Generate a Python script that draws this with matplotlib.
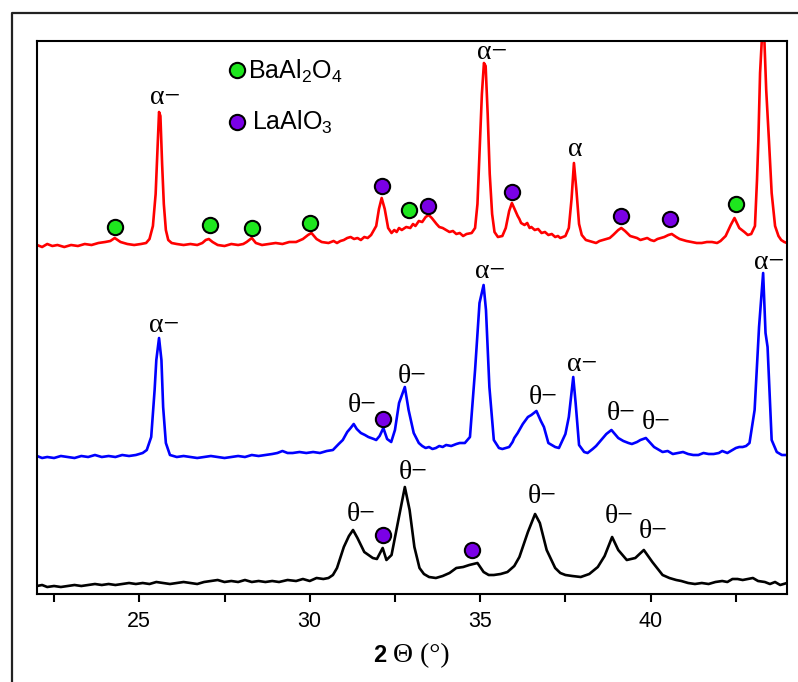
import matplotlib
matplotlib.use("Agg")
import matplotlib.pyplot as plt
from matplotlib.lines import Line2D

plt.rcParams['font.family'] = ['Liberation Sans', 'DejaVu Sans']
plt.rcParams['mathtext.fontset'] = 'custom'
plt.rcParams['mathtext.rm'] = 'Liberation Sans'
plt.rcParams['mathtext.it'] = 'Liberation Sans:italic'
plt.rcParams['mathtext.bf'] = 'Liberation Sans:bold'

# ---- XRD patterns (2-theta in degrees, intensity in a.u., already stacked) ----
red_2theta = [22.0, 22.15, 22.3, 22.45, 22.6, 22.8, 23.0, 23.2, 23.4, 23.6, 23.8, 24.0, 24.15, 24.28,
              24.45, 24.65, 24.85, 25.05, 25.2, 25.3, 25.4, 25.48, 25.53, 25.58, 25.62, 25.67, 25.72,
              25.78, 25.85, 25.95, 26.1, 26.3, 26.5, 26.7, 26.85, 26.95, 27.04, 27.15, 27.3, 27.5,
              27.7, 27.9, 28.05, 28.15, 28.3, 28.42, 28.6, 28.8, 29.0, 29.2, 29.4, 29.6, 29.8, 29.95,
              30.05, 30.2, 30.35, 30.55, 30.7, 30.8, 30.9, 31.0, 31.1, 31.2, 31.3, 31.4, 31.5, 31.6,
              31.7, 31.8, 31.95, 32.03, 32.11, 32.2, 32.3, 32.4, 32.48, 32.55, 32.62, 32.7, 32.83,
              32.95, 33.03, 33.1, 33.2, 33.3, 33.4, 33.49, 33.58, 33.65, 33.72, 33.8, 33.9, 34.0, 34.1,
              34.2, 34.3, 34.4, 34.5, 34.6, 34.75, 34.85, 34.92, 34.98, 35.05, 35.11, 35.16, 35.22,
              35.28, 35.35, 35.42, 35.52, 35.65, 35.75, 35.85, 35.93, 36.02, 36.1, 36.15, 36.2,
              36.3, 36.38, 36.45, 36.5, 36.6, 36.7, 36.8, 36.9, 37.0, 37.1, 37.2, 37.28, 37.35,
              37.5, 37.6, 37.68, 37.75, 37.82, 37.9, 37.98, 38.1, 38.2, 38.3, 38.4, 38.5, 38.6, 38.7,
              38.8, 38.9, 39.05, 39.14, 39.25, 39.4, 39.5, 39.6, 39.7, 39.8, 39.9, 40.0, 40.1, 40.2,
              40.3, 40.4, 40.52, 40.62, 40.75, 40.85, 40.95, 41.05, 41.2, 41.35, 41.5, 41.65, 41.8,
              41.95, 42.05, 42.2, 42.35, 42.46, 42.6, 42.75, 42.85, 42.95, 43.06, 43.12, 43.16, 43.21,
              43.27, 43.33, 43.39, 43.47, 43.55, 43.65, 43.75, 43.83, 43.92, 44.0]
red_intensity = [349, 347, 350, 348, 349, 347, 349, 348, 350, 349, 351, 352, 353, 356,
                 352, 350, 349, 350, 351, 355, 368, 400, 440, 482, 478, 430, 390,
                 364, 354, 351, 350, 349, 350, 349, 351, 354, 355, 352, 349, 348,
                 350, 349, 350, 352, 356, 351, 349, 350, 351, 350, 352, 352, 355, 359,
                 361, 355, 352, 351, 353, 351, 353, 354, 356, 357, 355, 356, 354, 357,
                 356, 359, 368, 385, 396, 385, 366, 361, 364, 362, 366, 364, 367,
                 366, 370, 368, 373, 372, 377, 379, 376, 373, 370, 367, 366, 364, 362,
                 363, 360, 361, 358, 360, 361, 366, 390, 440, 500, 531, 528, 480,
                 420, 380, 362, 357, 358, 366, 383, 391, 384, 378, 375, 371,
                 369, 371, 366, 367, 364, 365, 361, 362, 359, 360, 357, 358, 356,
                 358, 366, 395, 431, 405, 370, 359, 354, 353, 352, 351, 353, 354, 355,
                 356, 359, 364, 366, 363, 358, 357, 356, 354, 355, 356, 354, 353, 355,
                 356, 357, 359, 360, 357, 355, 354, 353, 352, 351, 351, 352, 352,
                 351, 353, 358, 369, 376, 366, 362, 359, 360, 368, 414, 454, 521,
                 560, 560, 504, 454, 401, 368, 358, 354, 352, 351]

blue_2theta = [22.0, 22.15, 22.3, 22.5, 22.7, 22.9, 23.1, 23.3, 23.5, 23.7, 23.9, 24.1, 24.3, 24.5,
               24.7, 24.9, 25.1, 25.22, 25.35, 25.45, 25.5, 25.58, 25.65, 25.7, 25.78, 25.9, 26.1,
               26.3, 26.5, 26.7, 26.9, 27.1, 27.3, 27.5, 27.7, 27.9, 28.1, 28.3, 28.5, 28.7, 28.9,
               29.05, 29.2, 29.35, 29.5, 29.7, 29.9, 30.1, 30.3, 30.5, 30.68, 30.85, 30.97, 31.1,
               31.2, 31.29, 31.38, 31.5, 31.62, 31.72, 31.8, 31.88, 31.95, 32.05, 32.16, 32.27, 32.39,
               32.5, 32.62, 32.79, 32.9, 33.05, 33.2, 33.3, 33.4, 33.5, 33.6, 33.7, 33.8, 33.9, 34.0,
               34.15, 34.3, 34.4, 34.55, 34.7, 34.85, 34.98, 35.1, 35.17, 35.27, 35.4, 35.55, 35.65,
               35.75, 35.85, 35.95, 36.0, 36.1, 36.25, 36.4, 36.5, 36.65, 36.78, 36.87, 37.0, 37.1,
               37.2, 37.31, 37.5, 37.6, 37.73, 37.8, 37.9, 38.05, 38.15, 38.3, 38.4, 38.55, 38.7,
               38.85, 39.05, 39.2, 39.35, 39.45, 39.6, 39.7, 39.86, 40.1, 40.35, 40.5, 40.65, 40.8,
               40.95, 41.1, 41.25, 41.4, 41.55, 41.7, 41.85, 42.0, 42.1, 42.25, 42.4, 42.5, 42.6,
               42.7, 42.8, 42.9, 43.05, 43.18, 43.3, 43.37, 43.43, 43.55, 43.7, 43.85, 44.0]
blue_intensity = [138, 136, 137, 136, 138, 137, 136, 138, 137, 139, 137, 138, 137, 139,
                  138, 139, 141, 144, 157, 204, 234, 256, 234, 187, 151, 139, 137,
                  138, 137, 136, 137, 138, 137, 136, 137, 138, 137, 139, 138, 139, 140,
                  141, 143, 141, 141, 142, 141, 142, 141, 143, 144, 150, 154, 162,
                  166, 170, 165, 161, 159, 157, 156, 155, 154, 158, 166, 155, 152,
                  164, 191, 207, 184, 161, 151, 148, 146, 147, 145, 146, 148, 147, 149,
                  148, 150, 151, 151, 157, 224, 291, 309, 284, 207, 154, 146, 145,
                  146, 147, 152, 156, 161, 170, 177, 179, 183, 173, 167, 151, 149,
                  147, 146, 160, 177, 217, 191, 149, 142, 141, 145, 148, 154, 160,
                  164, 156, 153, 151, 150, 152, 154, 156, 147, 142, 143, 140, 141,
                  142, 140, 139, 139, 141, 140, 140, 141, 143, 141, 144, 146, 147,
                  147, 148, 151, 184, 267, 321, 261, 247, 154, 142, 139, 139]

black_2theta = [22.0, 22.15, 22.3, 22.5, 22.7, 22.9, 23.1, 23.3, 23.5, 23.7, 23.9, 24.1, 24.3, 24.5,
                24.7, 24.9, 25.1, 25.3, 25.5, 25.7, 25.9, 26.1, 26.3, 26.5, 26.7, 26.9, 27.1, 27.3,
                27.5, 27.7, 27.9, 28.1, 28.3, 28.5, 28.7, 28.9, 29.1, 29.35, 29.6, 29.8, 30.0, 30.2,
                30.4, 30.55, 30.68, 30.8, 31.0, 31.15, 31.27, 31.4, 31.6, 31.85, 31.97, 32.14, 32.25,
                32.4, 32.6, 32.79, 32.93, 33.07, 33.22, 33.35, 33.5, 33.7, 33.9, 34.1, 34.3, 34.5,
                34.68, 34.8, 34.92, 35.0, 35.1, 35.25, 35.4, 35.6, 35.8, 36.0, 36.15, 36.4, 36.61,
                36.75, 36.95, 37.2, 37.35, 37.5, 37.7, 37.95, 38.2, 38.45, 38.65, 38.87, 39.05, 39.3,
                39.55, 39.8, 40.05, 40.35, 40.55, 40.75, 40.9, 41.1, 41.3, 41.5, 41.7, 41.9, 42.1, 42.25,
                42.4, 42.55, 42.7, 42.85, 43.0, 43.15, 43.35, 43.5, 43.65, 43.8, 44.0]
black_intensity = [8, 9, 7, 8, 7, 8, 9, 8, 9, 10, 9, 10, 9, 10,
                   11, 10, 11, 10, 12, 11, 10, 11, 12, 11, 10, 12, 13, 14,
                   12, 13, 12, 14, 12, 13, 12, 13, 12, 14, 13, 15, 13, 16,
                   15, 16, 19, 26, 47, 58, 64, 56, 42, 36, 35, 46, 34,
                   39, 74, 107, 84, 47, 26, 20, 17, 16, 18, 21, 26, 27,
                   29, 30, 31, 27, 22, 19, 19, 20, 22, 28, 37, 62, 80,
                   71, 44, 26, 21, 19, 18, 17, 20, 27, 38, 57, 44, 34,
                   36, 44, 32, 19, 16, 14, 13, 11, 10, 11, 10, 12, 13, 12,
                   15, 15, 14, 15, 16, 13, 12, 10, 12, 9, 11]

# ---- phase markers ----
baal2o4_2theta = [24.28, 27.06, 28.30, 30.0, 32.90, 42.49]
baal2o4_intensity = [367, 369, 366, 371, 384, 390]
laalo3_2theta = [32.12, 33.48, 35.93, 39.14, 40.56, 32.16, 32.14, 34.77]
laalo3_intensity = [408, 388, 402, 378, 375, 175, 59, 44]

# ---- alumina phase annotations: (text, 2theta, intensity at text baseline) ----
phase_labels = ['α−', 'α−', 'α',
                'α−', 'α−', 'α−', 'α−', 'θ−', 'θ−', 'θ−', 'θ−', 'θ−',
                'θ−', 'θ−', 'θ−', 'θ−', 'θ−']
label_2theta = [25.32, 34.91, 37.57,
                25.29, 34.85, 37.54, 43.04, 31.11, 32.57, 36.43, 38.71, 39.74,
                31.08, 32.60, 36.40, 38.65, 39.65]
label_intensity = [490, 535, 438,
                   262, 316, 223, 325, 182, 211, 190, 174, 165,
                   73, 115, 91, 71, 56]

xticks = [25, 30, 35, 40]

W, H = 798, 682
fig = plt.figure(figsize=(W / 100, H / 100), dpi=100)
ax = fig.add_axes([37 / W, 1 - 594 / H, 750 / W, 553 / H])

ax.plot(red_2theta, red_intensity, color='#ff0000', lw=1.9, zorder=2)
ax.plot(blue_2theta, blue_intensity, color='#0000ff', lw=1.9, zorder=2)
ax.plot(black_2theta, black_intensity, color='black', lw=1.9, zorder=2)

ax.plot(baal2o4_2theta, baal2o4_intensity, 'o', ms=11, mfc='#1ee61e', mec='black', mew=1.5,
        zorder=3, linestyle='none')
ax.plot(laalo3_2theta, laalo3_intensity, 'o', ms=11, mfc='#7a00e6', mec='black', mew=1.5,
        zorder=3, linestyle='none')

for txt, x, y in zip(phase_labels, label_2theta, label_intensity):
    ax.text(x, y, txt, family=['Liberation Serif', 'DejaVu Serif'], fontsize=20,
            ha='left', va='baseline', clip_on=True, zorder=4)

# legend drawn as markers + labels in axes coordinates
ax.plot([0.267], [0.9476], 'o', ms=11, mfc='#1ee61e', mec='black', mew=1.5,
        transform=ax.transAxes, zorder=4)
ax.plot([0.267], [0.854], 'o', ms=11, mfc='#7a00e6', mec='black', mew=1.5,
        transform=ax.transAxes, zorder=4)
ax.text(0.2813, 0.9325, r'BaAl$_2$O$_4$', transform=ax.transAxes, fontsize=18,
        ha='left', va='baseline')
ax.text(0.2867, 0.839, r'LaAlO$_3$', transform=ax.transAxes, fontsize=18,
        ha='left', va='baseline')

ax.set_xlim(22, 44)
ax.set_ylim(0, 553)
ax.set_xticks(xticks)
ax.set_xticks([22.5, 27.5, 32.5, 37.5, 42.5], minor=True)
ax.set_yticks([])
ax.tick_params(axis='x', which='both', direction='out', length=6, width=1.5,
               labelsize=15.5, pad=6)
for s in ax.spines.values():
    s.set_linewidth(1.5)

# axis title: bold "2" followed by serif "Θ (°)"
fig.text(386 / W, 1 - 662 / H, '2', fontsize=17, fontweight='bold',
         family=['Liberation Sans'], ha='right', va='baseline')
fig.text(393 / W, 1 - 662 / H, 'Θ (°)', fontsize=20,
         family=['Liberation Serif', 'DejaVu Serif'], ha='left', va='baseline')

# outer frame
fig.add_artist(Line2D([12 / W, 12 / W, 1.0], [0.0, 1 - 13 / H, 1 - 13 / H],
                      color='#222222', lw=1.6, transform=fig.transFigure))

fig.savefig('out.png', dpi=100)
